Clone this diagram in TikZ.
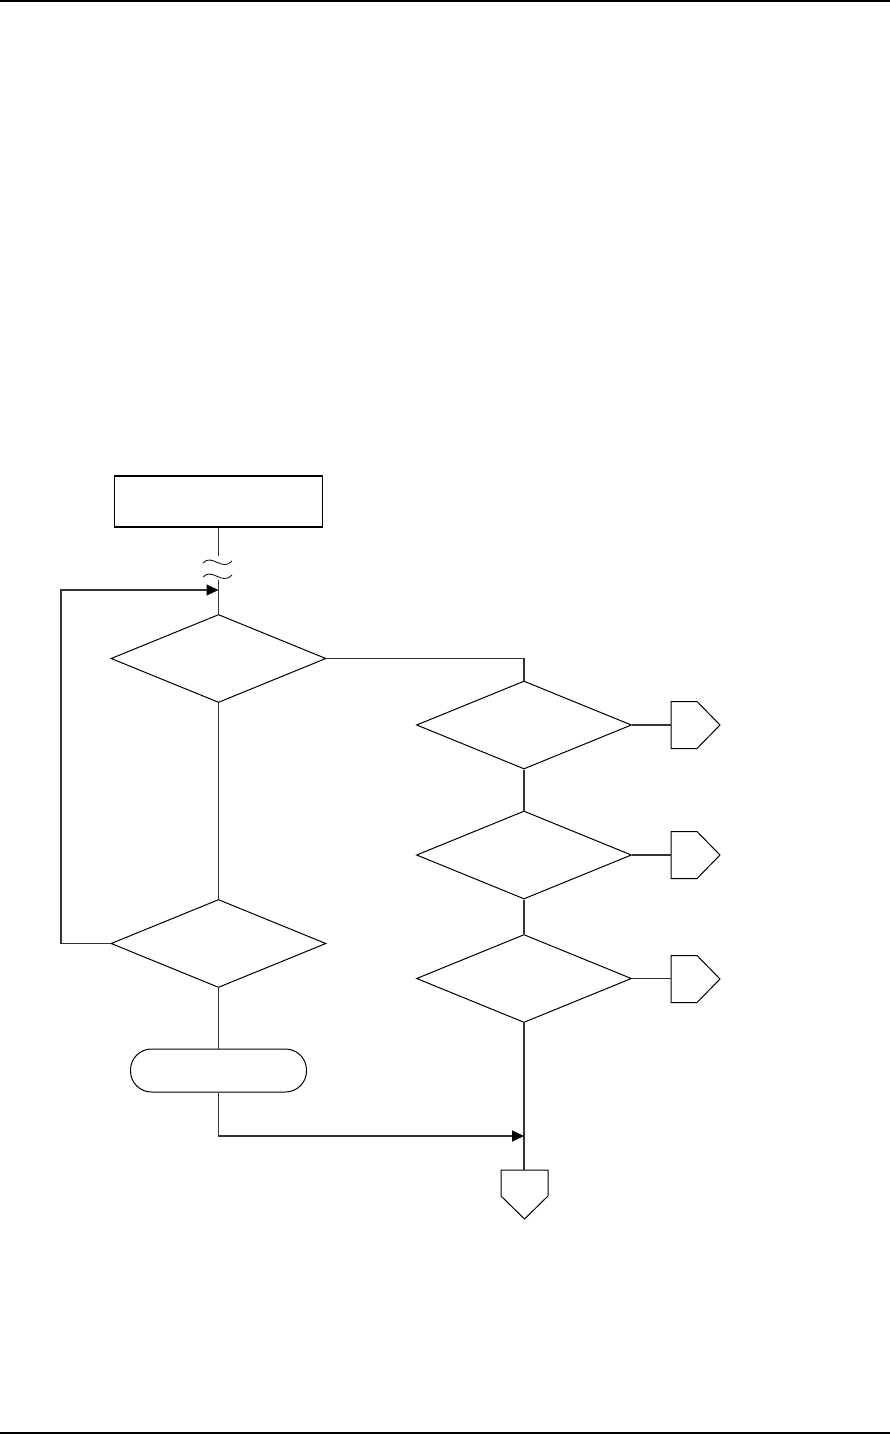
\documentclass[tikz,border=0pt]{standalone}
\usetikzlibrary{shapes.geometric,arrows.meta}
\begin{document}
\begin{tikzpicture}[x=1pt,y=-1pt,
  shp/.style={draw=black,line width=1pt,inner sep=0pt},
  dec/.style={shp,diamond,minimum width=215pt,minimum height=88pt},
  ln/.style={draw=black!80,line width=1.1pt},
  arr/.style={ln,-{Triangle[length=12pt,width=11pt,fill=black,color=black]}}]
\useasboundingbox (0,0) rectangle (890,1434);
\draw[line width=2pt] (0,1) -- (890,1);
\draw[line width=2pt] (0,1433) -- (890,1433);
% nodes
\node[shp,line width=1.5pt,rectangle,minimum width=208pt,minimum height=51pt] (box) at (218.5,501.5) {};
\node[dec] (d1) at (218.5,658.5) {};
\node[dec] (d2) at (218.5,943.5) {};
\node[dec] (d3) at (524,725) {};
\node[dec] (d4) at (524,855) {};
\node[dec] (d5) at (524,978.5) {};
\node[shp,rounded corners=21pt,minimum width=176pt,minimum height=43pt] (term) at (218.5,1070.5) {};
\coordinate (c3) at (671,725);
\coordinate (c4) at (671,855);
\coordinate (c5) at (671,979);
\coordinate (c6) at (524.5,1170);
\foreach \c in {c3,c4,c5}
  \draw[shp] (\c) -- ++(0,-23.5) -- ++(26,0) -- ++(23,23.5) -- ++(-23,23.5) -- ++(-26,0) -- cycle;
\draw[shp] (c6) -- ++(-23.5,0) -- ++(0,26) -- ++(23.5,23) -- ++(23.5,-23) -- ++(0,-26) -- cycle;
\coordinate (b1) at (218.5,556);
\coordinate (b2) at (218.5,580);
\coordinate (j1) at (218.5,590);
\coordinate (j2) at (524,1136);
% connectors
\draw[ln] (box.south) -- (b1);
\draw[ln] (b2) -- (d1.north);
\draw[line width=0.8pt] (203,563) .. controls (212,553) and (222,572) .. (232,561);
\draw[line width=0.8pt] (203,577) .. controls (212,567) and (222,586) .. (232,575);
\draw[arr] (d2.west) -- (61,943.5) -- (61,590) -- (j1);
\draw[ln] (d1.south) -- (d2.north);
\draw[ln] (d2.south) -- (term.north);
\draw[ln] (d1.east) -| (d3.north);
\draw[ln] (d3.south) -- (d4.north);
\draw[ln] (d4.south) -- (d5.north);
\draw[ln] (d5.south) -- (d5.south |- c6);
\draw[arr] (term.south) |- (j2);
\draw[ln] (d3.east) -- (c3);
\draw[ln] (d4.east) -- (c4);
\draw[ln] (d5.east) -- (d5.east -| c5);
\end{tikzpicture}
\end{document}
